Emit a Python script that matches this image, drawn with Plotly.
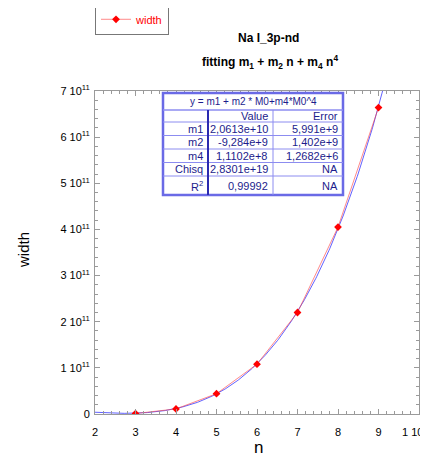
import numpy as np
import plotly.graph_objects as go

# ---- data ----
n_vals = [3, 4, 5, 6, 7, 8, 9]
width_vals = [1.0e9, 1.1e10, 4.4e10, 1.08e11, 2.2e11, 4.05e11, 6.64e11]

# fit coefficients shown in the table
m1, m2, m4 = 2.0613e10, -9.284e9, 1.1102e8

x_ticks = [2, 3, 4, 5, 6, 7, 8, 9, 10]
x_ticktext = ["2", "3", "4", "5", "6", "7", "8", "9", "1 10"]
y_ticks = [0, 1e11, 2e11, 3e11, 4e11, 5e11, 6e11, 7e11]
y_ticktext = ["0"] + [f"{i} 10<sup>11</sup>" for i in range(1, 8)]

table_title = "y = m1 + m2 * M0+m4*M0^4"
table_rows = ["", "m1", "m2", "m4", "Chisq", "R<sup>2</sup>"]
table_value = ["Value", "2,0613e+10", "-9,284e+9", "1,1102e+8", "2,8301e+19", "0,99992"]
table_error = ["Error", "5,991e+9", "1,402e+9", "1,2682e+6", "NA", "NA"]

# ---- layout geometry (screen pixels; page body has an 8px margin) ----
OFF = 8
W, H = 420, 449
L, R, T, B = 95, 419, 91, 414
pw, ph = R - L, B - T

def px(x):
    return (x - L) / pw

def py(y):
    return (B - y) / ph

FONT = "Liberation Sans, Arial, Helvetica, sans-serif"

fit_x = np.linspace(2, 10, 400)
fit_y = m1 + m2 * fit_x + m4 * fit_x ** 4

fig = go.Figure()
fig.add_trace(go.Scatter(
    x=fit_x, y=fit_y, mode="lines",
    line=dict(color="rgba(70,70,255,0.85)", width=1),
    showlegend=False, hoverinfo="skip"))
fig.add_trace(go.Scatter(
    x=n_vals, y=width_vals, mode="lines+markers", name="width",
    line=dict(color="rgba(255,60,60,0.6)", width=1),
    marker=dict(symbol="diamond", color="#ff0000", size=6)))

axis_common = dict(
    showgrid=False, zeroline=False, showline=True, linecolor="#9a9a9a", linewidth=1,
    mirror="allticks", ticks="inside", ticklen=5, tickcolor="#9a9a9a",
    tickfont=dict(family=FONT, size=11, color="#000"), automargin=False,
    ticklabeloverflow="allow",
)
# the last x label sits at the page edge: draw it as an axis-anchored annotation
fig.update_xaxes(
    **axis_common, range=[2, 10], tickvals=x_ticks,
    ticktext=x_ticktext[:-1] + [""],
    minor=dict(dtick=0.2, ticks="inside", ticklen=3, tickcolor="#9a9a9a"),
    ticklabelstandoff=8)
fig.update_yaxes(
    **axis_common, range=[0, 7e11], tickvals=y_ticks, ticktext=y_ticktext,
    minor=dict(dtick=2e10, ticks="inside", ticklen=3, tickcolor="#9a9a9a"),
    ticklabelstandoff=2)

shapes = []
annotations = []

def note(x, y, text, font, xanchor="center", textangle=0):
    annotations.append(dict(x=px(x), y=py(y), xref="paper", yref="paper", text=text,
                            showarrow=False, xanchor=xanchor, yanchor="middle",
                            textangle=textangle, font=font))

annotations.append(dict(x=x_ticks[-1], xref="x", y=py(432), yref="paper",
                        text=x_ticktext[-1], showarrow=False, xanchor="center",
                        yanchor="middle", xshift=-7,
                        font=dict(family=FONT, size=11, color="#000")))

# axis titles
note(258, 448, "n", dict(family=FONT, size=17, color="#000"))
note(23, 250, "width", dict(family=FONT, size=15, color="#000"), textangle=-90)

# titles
note(268, 38, "<b>Na I_3p-nd</b>", dict(family=FONT, size=12, color="#000"))
note(270, 62, "<b>fitting m<sub>1</sub> + m<sub>2</sub> n + m<sub>4</sub> n<sup>4</sup></b>",
     dict(family=FONT, size=12, color="#000"))

# fit table
tx0, tx1, tx2, tx3 = 163, 208, 273, 343
ty = [93, 110, 122, 135.5, 149, 162.5, 176, 195]
line_c = "#8c8cf0"
shapes.append(dict(type="rect", xref="paper", yref="paper",
                   x0=px(tx0), x1=px(tx3), y0=py(ty[0]), y1=py(ty[-1]),
                   line=dict(color="#6a6ae6", width=2.5), fillcolor="white", layer="above"))
for yy in ty[1:-1]:
    shapes.append(dict(type="line", xref="paper", yref="paper",
                       x0=px(tx0), x1=px(tx3), y0=py(yy), y1=py(yy),
                       line=dict(color=line_c, width=1 if yy != ty[1] else 1.5), layer="above"))
shapes.append(dict(type="line", xref="paper", yref="paper",
                   x0=px(tx1), x1=px(tx1), y0=py(ty[1]), y1=py(ty[-1]),
                   line=dict(color="#2a2ab0", width=2), layer="above"))
shapes.append(dict(type="line", xref="paper", yref="paper",
                   x0=px(tx2), x1=px(tx2), y0=py(ty[1]), y1=py(ty[-1]),
                   line=dict(color=line_c, width=1), layer="above"))

tfont = dict(family=FONT, size=11, color="#1c1c8c")
note((tx0 + tx3) / 2, (ty[0] + ty[1]) / 2, table_title,
     dict(family=FONT, size=10, color="#1c1c8c"))
for i in range(len(table_rows)):
    yc = (ty[i + 1] + ty[i + 2]) / 2
    for txt, xr in ((table_rows[i], tx1 - 3), (table_value[i], tx2 - 3), (table_error[i], tx3 - 3)):
        if txt:
            note(xr, yc, txt, tfont, xanchor="right")

fig.update_layout(
    width=W, height=H,
    margin=dict(l=L - OFF, r=W - (R - OFF), t=T - OFF, b=H - (B - OFF), autoexpand=False),
    paper_bgcolor="white", plot_bgcolor="white",
    shapes=shapes, annotations=annotations,
    showlegend=True,
    legend=dict(x=0, y=1.27, xanchor="left", yanchor="top",
                bordercolor="#777", borderwidth=1, bgcolor="white",
                font=dict(family=FONT, size=11, color="#ff0000"),
                itemwidth=30, tracegroupgap=0),
)

fig.write_html("out.html")
